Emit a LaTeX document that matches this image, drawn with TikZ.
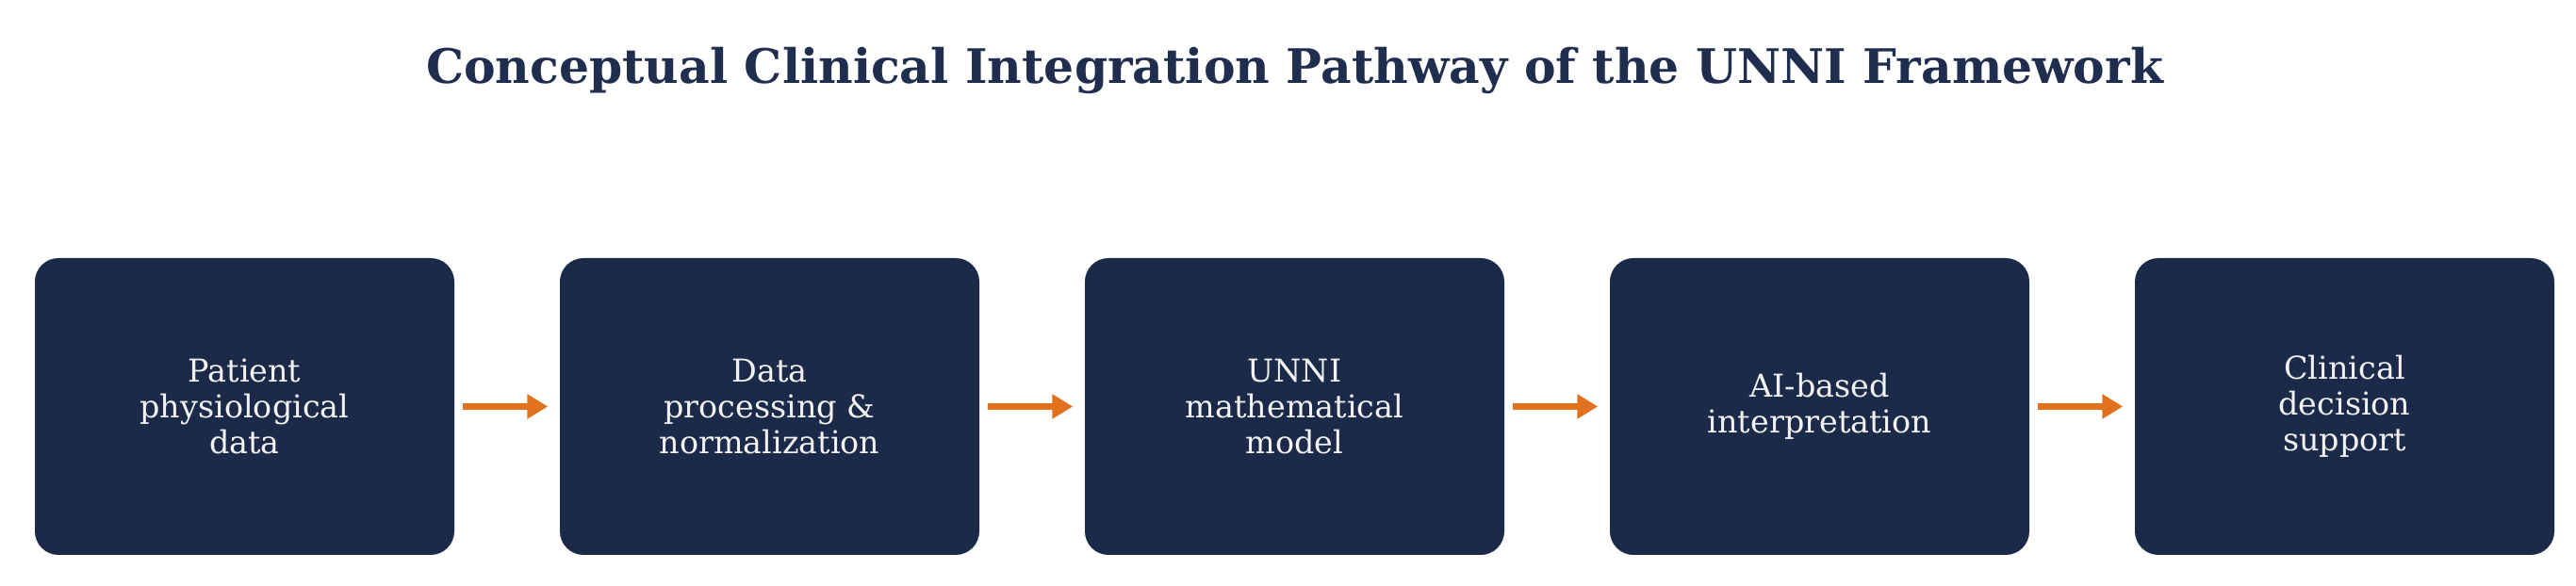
\documentclass[tikz,border=0pt]{standalone}
\usepackage{fontspec}
\setmainfont{DejaVu Serif}
\usetikzlibrary{arrows.meta}
\definecolor{boxnavy}{HTML}{1C2A4A}
\definecolor{titlenavy}{HTML}{1F2D4E}
\definecolor{arroworange}{HTML}{E2711D}
\definecolor{boxtext}{HTML}{F2F2F2}

\begin{document}
\begin{tikzpicture}
    \pgfmathsetmacro{\picwidth}{27.33}
    \pgfmathsetmacro{\picheight}{6.22}
    \pgfmathsetmacro{\boxwidth}{4.45}
    \pgfmathsetmacro{\boxheight}{3.15}
    \pgfmathsetmacro{\boxpitch}{5.57}
    \pgfmathsetmacro{\firstx}{2.595}
    \pgfmathsetmacro{\boxy}{1.905}
    \providecommand{\titlefontsize}{\fontsize{14.35pt}{17pt}\selectfont}
    \providecommand{\boxfontsize}{\fontsize{9.5pt}{10.8pt}\selectfont}
    \tikzset{
        stagebox/.style={fill=boxnavy,rounded corners=0.25cm,minimum width=\boxwidth cm,
            minimum height=\boxheight cm,inner sep=0,align=center,text=boxtext,font=\boxfontsize},
        flowarrow/.style={draw=arroworange,line width=0.07cm,shorten <=0.08cm,shorten >=0.12cm,
            -{Triangle[length=0.22cm,width=0.25cm]}}
    }
    \useasboundingbox (0,0) rectangle (\picwidth,\picheight);
    \node[text=titlenavy,font=\titlefontsize] (title) at (13.74,5.47)
        {\textbf{Conceptual Clinical Integration Pathway of the UNNI Framework}};
    \node[stagebox] (patient) at (\firstx,\boxy) {Patient\\physiological\\data};
    \node[stagebox] (processing) at (\firstx+\boxpitch,\boxy) {Data\\processing \&\\normalization};
    \node[stagebox] (model) at (\firstx+2*\boxpitch,\boxy) {UNNI\\mathematical\\model};
    \node[stagebox] (interpret) at (\firstx+3*\boxpitch,\boxy) {AI-based\\interpretation};
    \node[stagebox] (decision) at (\firstx+4*\boxpitch,\boxy) {Clinical\\decision\\support};
    \draw[flowarrow] (patient) -- (processing);
    \draw[flowarrow] (processing) -- (model);
    \draw[flowarrow] (model) -- (interpret);
    \draw[flowarrow] (interpret) -- (decision);
\end{tikzpicture}
\end{document}
